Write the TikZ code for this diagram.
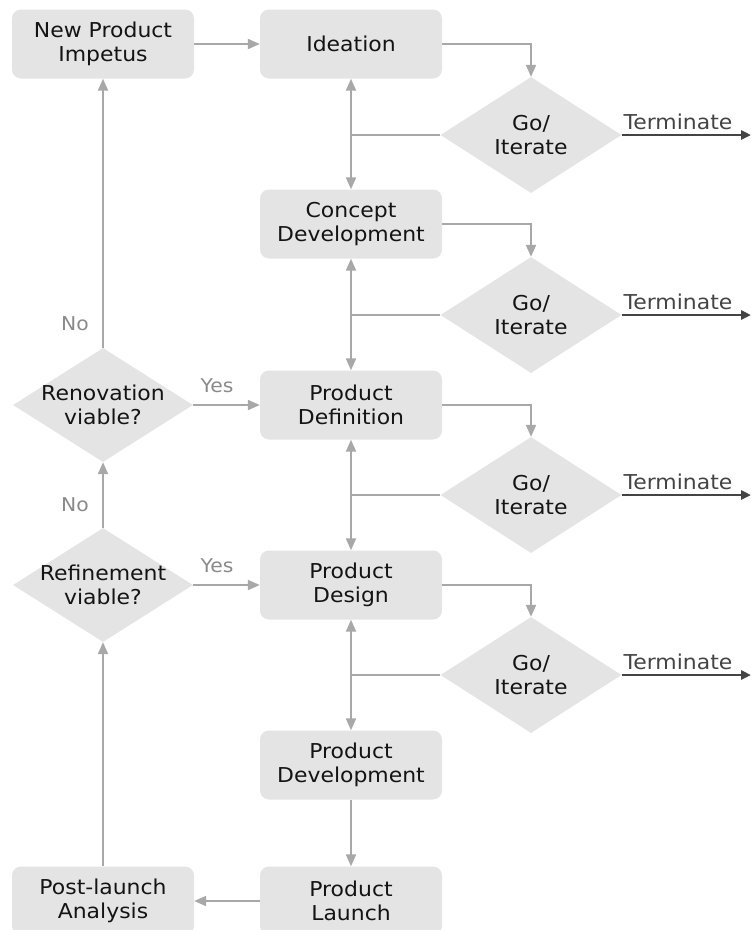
\documentclass[tikz,border=0pt]{standalone}
\usepackage{fontspec}
\setmainfont{DejaVu Sans}[FakeStretch=1.07]
\usetikzlibrary{arrows.meta,shapes.geometric}
\definecolor{boxfill}{HTML}{E4E4E4}
\definecolor{linegray}{HTML}{A8A8A8}
\definecolor{labelgray}{HTML}{8A8A8A}
\definecolor{txt}{HTML}{141414}
\definecolor{termline}{HTML}{444444}
\tikzset{
  stepbox/.style={draw=none, fill=boxfill, rounded corners=9pt, minimum width=182pt, minimum height=69pt, inner sep=0pt, align=center, text=txt, font=\fontsize{20.5}{24}\selectfont},
  decision/.style={diamond, draw=none, fill=boxfill, minimum width=181pt, minimum height=116pt, inner sep=0pt},
  dtext/.style={align=center, text=txt, inner sep=0pt, font=\fontsize{20.5}{24}\selectfont},
  conn/.style={draw=linegray, line width=2pt},
  arr/.style={conn, -{Triangle[length=12pt,width=10pt]}},
  darr/.style={conn, {Triangle[length=12pt,width=10pt]}-{Triangle[length=12pt,width=10pt]}},
  termarr/.style={draw=termline, line width=2.6pt, -{Triangle[length=10pt,width=9pt]}},
  yn/.style={text=labelgray, font=\fontsize{19}{22}\selectfont, inner sep=0pt},
  termlabel/.style={text=termline, font=\fontsize{20.5}{24}\selectfont, inner sep=0pt, anchor=base}
}
\begin{document}
\begin{tikzpicture}[x=1pt,y=-1pt]
\useasboundingbox (0,0) rectangle (751,930);
% boxes
\node[stepbox] (npi) at (103,44) {New Product\\Impetus};
\node[stepbox] (ide) at (351,44) {Ideation};
\node[stepbox] (con) at (351,224) {Concept\\Development};
\node[stepbox] (pdef) at (351,405) {Product\\Definition};
\node[stepbox] (pdes) at (351,585) {Product\\Design};
\node[stepbox] (pdev) at (351,765) {Product\\Development};
\node[stepbox] (pl) at (351,901) {Product\\Launch};
\node[stepbox] (pla) at (103,901) {Post-launch\\Analysis};
% decisions
\node[decision] (g1) at (531,135) {};
\node[decision] (g2) at (531,315) {};
\node[decision] (g3) at (531,495) {};
\node[decision] (g4) at (531,675) {};
\node[decision, minimum width=180pt, minimum height=114pt] (ren) at (103,405) {};
\node[decision, minimum width=180pt, minimum height=114pt] (ref) at (103,585) {};
\node[dtext] (g1t) at (g1) {Go/\\Iterate};
\node[dtext] (g2t) at (g2) {Go/\\Iterate};
\node[dtext] (g3t) at (g3) {Go/\\Iterate};
\node[dtext] (g4t) at (g4) {Go/\\Iterate};
\node[dtext] (rent) at (ren) {Renovation\\viable?};
\node[dtext] (reft) at (ref) {Refinement\\viable?};
% terminate endpoints
\coordinate (t1) at (751,135);
\coordinate (t2) at (751,315);
\coordinate (t3) at (751,495);
\coordinate (t4) at (751,675);
% main flow
\draw[arr] (npi.east) -- (ide.west);
\draw[darr] (ide.south) -- (con.north);
\draw[darr] (con.south) -- (pdef.north);
\draw[darr] (pdef.south) -- (pdes.north);
\draw[darr] (pdes.south) -- (pdev.north);
\draw[arr] (pdev.south) -- (pl.north);
\draw[arr] (pl.west) -- (pla.east);
% to decisions
\draw[arr] (ide.east) -| (g1.north);
\draw[arr] (con.east) -| (g2.north);
\draw[arr] (pdef.east) -| (g3.north);
\draw[arr] (pdes.east) -| (g4.north);
% iterate back
\draw[conn] (g1.west) -- (ide.south |- g1.west);
\draw[conn] (g2.west) -- (con.south |- g2.west);
\draw[conn] (g3.west) -- (pdef.south |- g3.west);
\draw[conn] (g4.west) -- (pdes.south |- g4.west);
% terminate
\draw[termarr] (g1.east) -- (t1);
\draw[termarr] (g2.east) -- (t2);
\draw[termarr] (g3.east) -- (t3);
\draw[termarr] (g4.east) -- (t4);
\node[termlabel] (tl1) at (678,129) {Terminate};
\node[termlabel] (tl2) at (678,309) {Terminate};
\node[termlabel] (tl3) at (678,489) {Terminate};
\node[termlabel] (tl4) at (678,669) {Terminate};
% left loop
\draw[arr] (pla.north) -- (ref.south);
\draw[arr] (ref.north) -- (ren.south);
\draw[arr] (ren.north) -- (npi.south);
\draw[arr] (ren.east) -- (pdef.west);
\draw[arr] (ref.east) -- (pdes.west);
\node[yn] (no1) at (75,324) {No};
\node[yn] (no2) at (75,505) {No};
\node[yn] (yes1) at (217,386) {Yes};
\node[yn] (yes2) at (217,566) {Yes};
\end{tikzpicture}
\end{document}
